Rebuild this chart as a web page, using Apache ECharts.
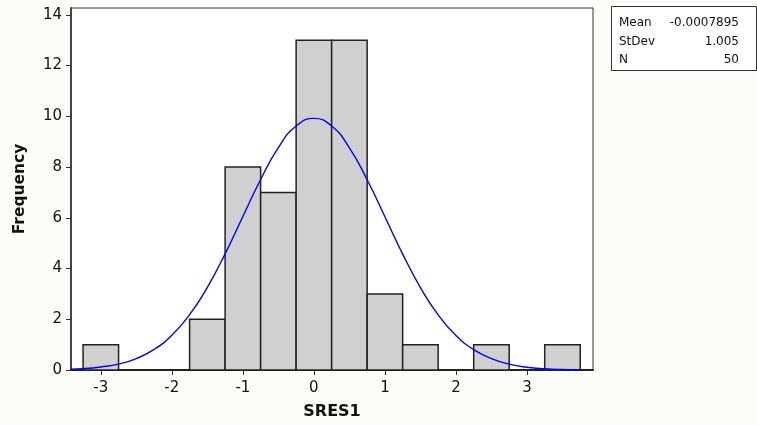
<!DOCTYPE html>
<html>
<head>
<meta charset="utf-8">
<script src="https://cdn.jsdelivr.net/npm/echarts@6/dist/echarts.min.js"></script>
<style>
html,body{margin:0;padding:0;background:#fcfcf9;}
#chart{width:757px;height:425px;}
</style>
</head>
<body>
<div id="chart"></div>
<script>
// Histogram bins (start, end) and counts
const binStarts = [-3.25,-2.75,-2.25,-1.75,-1.25,-0.75,-0.25,0.25,0.75,1.25,1.75,2.25,2.75,3.25];
const binEnds   = [-2.75,-2.25,-1.75,-1.25,-0.75,-0.25,0.25,0.75,1.25,1.75,2.25,2.75,3.25,3.75];
const counts    = [1,0,0,2,8,7,13,13,3,1,0,1,0,1];

// Fitted curve
const curveX = [-3.42,-3.25,-3.0,-2.75,-2.5,-2.25,-2.0,-1.75,-1.5,-1.25,-1.0,-0.75,-0.5,-0.25,0,0.25,0.5,0.75,1.0,1.25,1.5,1.75,2.0,2.25,2.5,2.75,3.0,3.25,3.5,3.75];
const curveY = [0.03,0.05,0.12,0.23,0.45,0.81,1.37,2.18,3.26,4.58,6.05,7.51,8.77,9.62,9.92,9.62,8.76,7.50,6.04,4.57,3.25,2.17,1.36,0.80,0.45,0.23,0.11,0.05,0.02,0.01];

const xTicks = [-3,-2,-1,0,1,2,3];
const yTicks = [0,2,4,6,8,10,12,14];

const statNames = ['Mean','StDev','N'];
const statValues = ['-0.0007895','1.005','50'];

const chart = echarts.init(document.getElementById('chart'));
const font = 'DejaVu Sans';

const binData = binStarts.map((s,i)=>[s, binEnds[i], counts[i]]);
const curveData = curveX.map((x,i)=>[x, curveY[i]]);

const statGraphics = [{
  type:'rect', shape:{x:611.5,y:6.5,width:145,height:64},
  style:{fill:'#ffffff', stroke:'#333', lineWidth:1}
}];
statNames.forEach((n,i)=>{
  statGraphics.push({type:'text', x:619, y:23+i*18.5,
    style:{text:n, fontFamily:font, fontSize:12, fill:'#111', verticalAlign:'middle'}});
  statGraphics.push({type:'text', x:739, y:23+i*18.5,
    style:{text:statValues[i], fontFamily:font, fontSize:12, fill:'#111', align:'right', verticalAlign:'middle'}});
});

chart.setOption({
  backgroundColor:'#fcfcf9',
  animation:false,
  grid:{left:71, top:8, width:522, height:362, show:true, backgroundColor:'#ffffff', borderColor:'#333', borderWidth:1},
  xAxis:{
    type:'value', min:-3.42, max:3.93,
    name:'SRES1', nameLocation:'middle', nameGap:34,
    nameTextStyle:{fontFamily:font, fontWeight:'bold', fontSize:16, color:'#111'},
    axisLine:{show:true, onZero:false, lineStyle:{color:'#222', width:2}},
    axisTick:{show:true, length:5, customValues:xTicks, lineStyle:{color:'#333', width:1}},
    axisLabel:{customValues:xTicks, fontFamily:font, fontSize:15, color:'#111', margin:11},
    splitLine:{show:false}
  },
  yAxis:{
    type:'value', min:0, max:14.27,
    name:'Frequency', nameLocation:'middle', nameGap:43, nameRotate:90,
    nameTextStyle:{fontFamily:font, fontWeight:'bold', fontSize:15.5, color:'#111'},
    axisLine:{show:true, onZero:false, lineStyle:{color:'#444', width:2}},
    axisTick:{show:true, length:5, customValues:yTicks, lineStyle:{color:'#333', width:1}},
    axisLabel:{customValues:yTicks, fontFamily:font, fontSize:15, color:'#111', margin:9},
    splitLine:{show:false}
  },
  series:[
    {
      type:'custom',
      data:binData,
      encode:{x:[0,1], y:2},
      clip:true,
      renderItem:function(params, api){
        const c = api.value(2);
        if (!c) return null;
        const p0 = api.coord([api.value(0), 0]);
        const p1 = api.coord([api.value(1), c]);
        return {
          type:'rect',
          shape:{x:p0[0], y:p1[1], width:p1[0]-p0[0], height:p0[1]-p1[1]},
          style:{fill:'#d0d0d0', stroke:'#222', lineWidth:1.5}
        };
      },
      z:2
    },
    {
      type:'line',
      data:curveData,
      smooth:true,
      showSymbol:false,
      symbol:'none',
      lineStyle:{color:'#0000ff', width:1.4},
      z:3
    }
  ],
  graphic:statGraphics
});
</script>
</body>
</html>
